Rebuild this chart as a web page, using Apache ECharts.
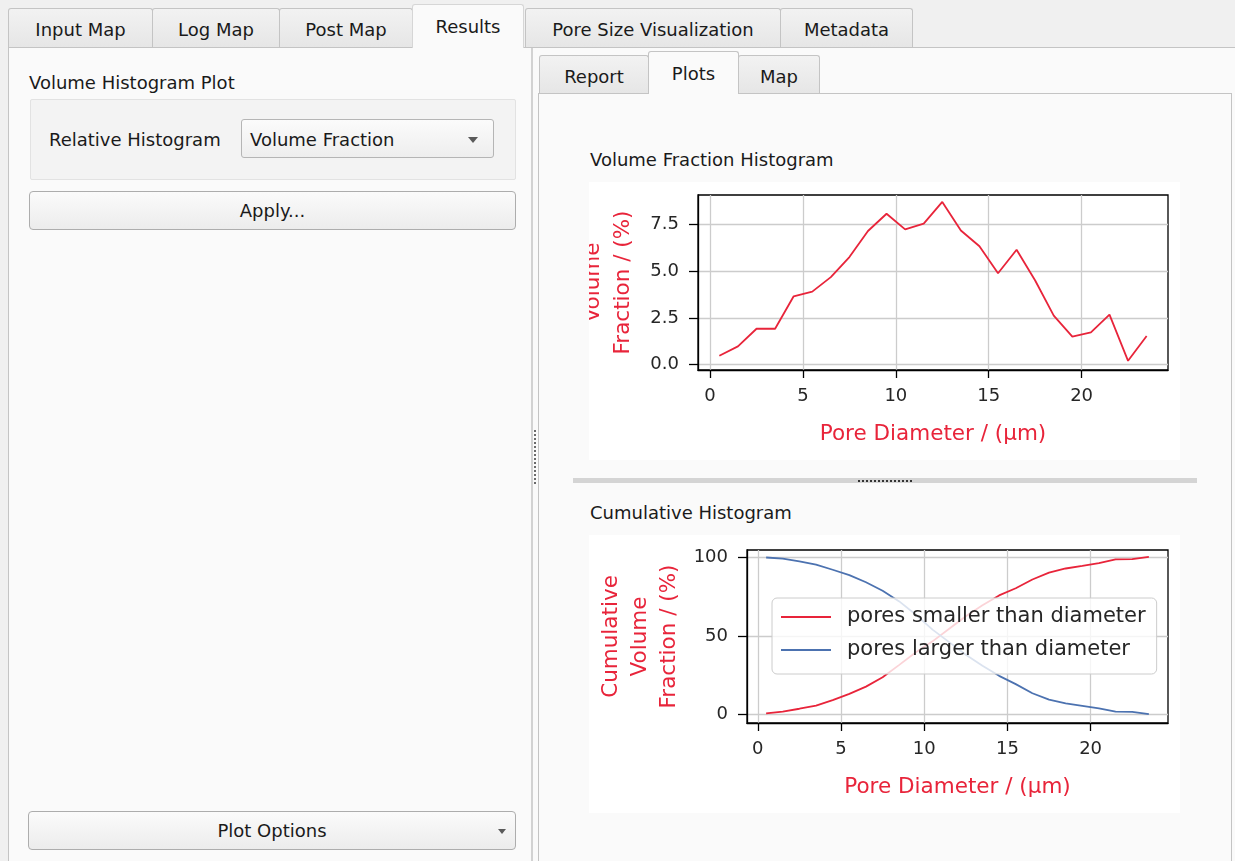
<!DOCTYPE html>
<html>
<head>
<meta charset="utf-8">
<script src="https://cdn.jsdelivr.net/npm/echarts@6/dist/echarts.min.js"></script>
<style>
  html, body { margin:0; padding:0; }
  body { width:1235px; height:861px; background:#f0f0f0; position:relative; overflow:hidden;
         font-family:"DejaVu Sans", sans-serif; font-size:18px; color:#1a1a1a; }
  .abs { position:absolute; box-sizing:border-box; }
  .tab { position:absolute; box-sizing:border-box; background:linear-gradient(#f2f2f2,#e6e6e6);
         border:1px solid #c4c4c4; border-bottom:none; border-radius:3px 3px 0 0;
         text-align:center; line-height:42px; white-space:nowrap; }
  .tab.sel { background:#fafafa; line-height:44px; }
  .btn { position:absolute; box-sizing:border-box; background:linear-gradient(#fbfbfb,#ececec);
         border:1px solid #adadad; border-radius:4px; text-align:center; line-height:37px; }
  .arrow { position:absolute; width:0; height:0; border-left:5px solid transparent;
           border-right:5px solid transparent; border-top:6px solid #5a5a5a; }
  .lbl { position:absolute; white-space:nowrap; line-height:22px; }
</style>
</head>
<body>
<!-- top tab bar -->
<div class="abs" style="left:8px;top:47px;width:1227px;height:814px;background:#fafafa;border-top:1px solid #c4c4c4;border-left:1px solid #c4c4c4;"></div>
<div class="tab" style="left:8px;top:8px;width:145px;height:39px;">Input Map</div>
<div class="tab" style="left:152px;top:8px;width:128px;height:39px;">Log Map</div>
<div class="tab" style="left:279px;top:8px;width:134px;height:39px;">Post Map</div>
<div class="tab sel" style="left:412px;top:4px;width:112px;height:44px;border-color:#d6d6d6;">Results</div>
<div class="tab" style="left:525px;top:8px;width:256px;height:39px;">Pore Size Visualization</div>
<div class="tab" style="left:780px;top:8px;width:133px;height:39px;">Metadata</div>

<!-- left controls -->
<div class="lbl" style="left:29px;top:72px;">Volume Histogram Plot</div>
<div class="abs" style="left:30px;top:99px;width:486px;height:81px;background:#f3f3f3;border:1px solid #e2e2e2;border-radius:2px;"></div>
<div class="lbl" style="left:49px;top:129px;">Relative Histogram</div>
<div class="abs" style="left:241px;top:119px;width:253px;height:39px;background:linear-gradient(#fbfbfb,#eeeeee);border:1px solid #b5b5b5;border-radius:3px;"></div>
<div class="lbl" style="left:250px;top:129px;">Volume Fraction</div>
<div class="arrow" style="left:468px;top:137px;"></div>
<div class="btn" style="left:29px;top:191px;width:487px;height:39px;">Apply...</div>
<div class="btn" style="left:28px;top:811px;width:488px;height:39px;">Plot Options</div>
<div class="arrow" style="left:498px;top:829px;border-left-width:4px;border-right-width:4px;border-top-width:5px;"></div>

<!-- vertical splitter -->
<div class="abs" style="left:531px;top:48px;width:2px;height:813px;background:#d2d2d2;"></div>
<div class="abs" style="left:534px;top:430px;width:0;height:54px;border-left:2px dotted #6a6a6a;"></div>

<!-- right tab widget -->
<div class="abs" style="left:538px;top:93px;width:694px;height:780px;background:#fafafa;border:1px solid #c4c4c4;"></div>
<div class="tab" style="left:539px;top:55px;width:110px;height:38px;">Report</div>
<div class="tab sel" style="left:648px;top:51px;width:91px;height:43px;">Plots</div>
<div class="tab" style="left:738px;top:55px;width:82px;height:38px;">Map</div>

<div class="lbl" style="left:590px;top:149px;">Volume Fraction Histogram</div>
<div class="lbl" style="left:590px;top:502px;">Cumulative Histogram</div>

<!-- horizontal splitter -->
<div class="abs" style="left:573px;top:478px;width:624px;height:5px;background:#d4d4d4;"></div>
<div class="abs" style="left:858px;top:480px;width:54px;height:0;border-top:2px dotted #333;"></div>

<div id="c1" class="abs" style="left:589px;top:182px;width:591px;height:278px;background:#fff;"></div>
<div id="c2" class="abs" style="left:589px;top:535px;width:591px;height:278px;background:#fff;"></div>

<script>
// ---- data ----
const poreDiameter = [0.5,1.5,2.5,3.5,4.5,5.5,6.5,7.5,8.5,9.5,10.5,11.5,12.5,13.5,14.5,15.5,16.5,17.5,18.5,19.5,20.5,21.5,22.5,23.5];
const volumeFraction = [0.48,0.98,1.92,1.92,3.65,3.90,4.67,5.74,7.13,8.05,7.22,7.52,8.68,7.16,6.32,4.88,6.13,4.49,2.62,1.50,1.73,2.67,0.21,1.53];
const cumSmaller = [0.5,1.6,3.5,5.5,9.0,13.0,17.6,23.6,31.5,39.5,46.5,54.5,62.5,69.5,75.8,80.4,86.0,90.4,93.0,94.6,96.4,98.8,99.0,100.4];
const cumLarger = [100,99.3,97.6,95.4,92.2,88.8,84.2,78.8,72.0,63.5,54.0,46.0,38.0,31.0,24.5,19.2,13.4,9.3,6.9,5.3,3.7,1.6,1.5,0.1];
const xTicks = [0,5,10,15,20];
const xTickLabels = ['0','5','10','15','20'];
const yTicks1 = [0,2.5,5,7.5];
const yTickLabels1 = ['0.0','2.5','5.0','7.5'];
const yTicks2 = [0,50,100];
const yTickLabels2 = ['0','50','100'];
const seriesNames = ['pores smaller than diameter','pores larger than diameter'];

const RED = '#e8243a';
const BLUE = '#4c72b0';
const FONT = 'DejaVu Sans';
const pairs = (ys) => poreDiameter.map((x,i)=>[x, ys[i]]);

function xAxis() {
  return {
    type:'value', min:-0.65, max:24.65,
    name:'Pore Diameter / (µm)', nameLocation:'middle', nameGap:53,
    nameTextStyle:{color:RED, fontSize:21.5, fontFamily:FONT},
    axisLine:{show:true, onZero:false, lineStyle:{color:'#000', width:1.3}},
    axisTick:{show:true, inside:false, length:8, customValues:xTicks, lineStyle:{color:'#000', width:1.3}},
    axisLabel:{customValues:xTicks, color:'#262626', fontSize:18, fontFamily:FONT, margin:17,
               formatter:(v)=>xTickLabels[xTicks.indexOf(v)]},
    splitLine:{show:true, lineStyle:{color:'#cccccc', width:1.3}}
  };
}
function yAxis(min, max, ticks, labels, name, gap, lh) {
  return {
    type:'value', min:min, max:max,
    name:name, nameLocation:'middle', nameGap:gap, nameMoveOverlap:false,
    nameTextStyle:{color:RED, fontSize:21.5, fontFamily:FONT, lineHeight:lh, align:'center'},
    axisLine:{show:true, onZero:false, lineStyle:{color:'#000', width:1.3}},
    axisTick:{show:true, inside:false, length:9, customValues:ticks, lineStyle:{color:'#000', width:1.3}},
    axisLabel:{customValues:ticks, color:'#262626', fontSize:18, fontFamily:FONT, margin:19,
               formatter:(v)=>labels[ticks.indexOf(v)]},
    splitLine:{show:true, lineStyle:{color:'#cccccc', width:1.3}}
  };
}
const gridStyle = {show:true, borderColor:'#000', borderWidth:1.3, backgroundColor:'#fff',
                   containLabel:false, outerBoundsMode:'none'};

const ch1 = echarts.init(document.getElementById('c1'), null, {renderer:'canvas'});
ch1.setOption({
  animation:false,
  grid:Object.assign({left:109, top:13, width:470, height:175}, gridStyle),
  xAxis:xAxis(),
  yAxis:yAxis(-0.28, 9.05, yTicks1, yTickLabels1, 'Volume\nFraction / (%)', 60, 30),
  series:[{type:'line', data:pairs(volumeFraction), symbol:'none', lineStyle:{color:RED, width:1.8}, itemStyle:{color:RED}}]
});

const ch2 = echarts.init(document.getElementById('c2'), null, {renderer:'canvas'});
ch2.setOption({
  animation:false,
  grid:Object.assign({left:158, top:15, width:421, height:173}, gridStyle),
  xAxis:xAxis(),
  yAxis:yAxis(-5.6, 104.8, yTicks2, yTickLabels2, 'Cumulative\nVolume\nFraction / (%)', 63, 29),
  legend:{
    orient:'vertical', left:183, top:63,
    data:seriesNames,
    icon:'rect',
    itemWidth:50, itemHeight:2, itemGap:9,
    padding:[7,11,12,9],
    backgroundColor:'rgba(255,255,255,0.8)', borderColor:'#cccccc', borderWidth:1, borderRadius:5,
    textStyle:{color:'#262626', fontSize:21, fontFamily:FONT, lineHeight:24, padding:[0,0,0,11]}
  },
  series:[
    {name:seriesNames[0], type:'line', data:pairs(cumSmaller), symbol:'none', lineStyle:{color:RED, width:1.8}, itemStyle:{color:RED}},
    {name:seriesNames[1], type:'line', data:pairs(cumLarger), symbol:'none', lineStyle:{color:BLUE, width:1.8}, itemStyle:{color:BLUE}}
  ]
});
</script>
</body>
</html>
